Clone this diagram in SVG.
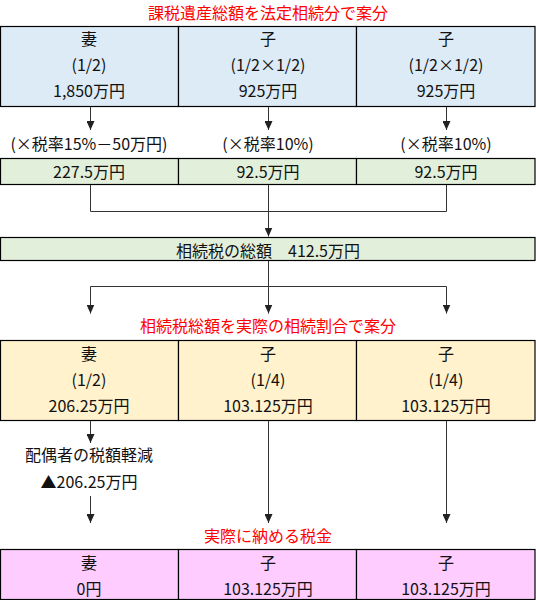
<svg xmlns="http://www.w3.org/2000/svg" width="536" height="600" viewBox="0 0 536 600">
<style>
text{font-family:"Meiryo","Noto Sans CJK JP","Noto Sans",sans-serif;font-size:16px;fill:#111;text-anchor:middle;dominant-baseline:central}
.red{fill:#ff0000}
.cell{stroke:#000;stroke-width:1.2}
.blue{fill:#ddebf7}
.green{fill:#e2efda}
.yellow{fill:#fff2cc}
.pink{fill:#ffccff}
.conn{stroke:#333;stroke-width:1;fill:none}
</style>
<defs>
<marker id="ah" markerWidth="9" markerHeight="8" refX="9" refY="4" orient="auto" markerUnits="userSpaceOnUse" viewBox="0 0 9 8">
<path d="M0,0 L9,4 L0,8 Z" fill="#222"/>
</marker>
</defs>
<text class="red" x="268" y="12">課税遺産総額を法定相続分で案分</text>
<g id="t1-wife"><rect class="cell blue" x="0.5" y="26.5" width="178" height="80"/><text x="89" y="38">妻</text><text x="89" y="64">(1/2)</text><text x="89" y="90">1,850万円</text></g>
<g id="t1-child1"><rect class="cell blue" x="178.5" y="26.5" width="178" height="80"/><text x="268" y="38">子</text><text x="268" y="64">(1/2×1/2)</text><text x="268" y="90">925万円</text></g>
<g id="t1-child2"><rect class="cell blue" x="356.5" y="26.5" width="178.5" height="80"/><text x="446" y="38">子</text><text x="446" y="64">(1/2×1/2)</text><text x="446" y="90">925万円</text></g>
<text x="89" y="143">(×税率15%－50万円)</text>
<text x="268" y="143">(×税率10%)</text>
<text x="446" y="143">(×税率10%)</text>
<g id="t2-wife"><rect class="cell green" x="0.5" y="158.5" width="178" height="26"/><text x="89" y="171">227.5万円</text></g>
<g id="t2-child1"><rect class="cell green" x="178.5" y="158.5" width="178" height="26"/><text x="268" y="171">92.5万円</text></g>
<g id="t2-child2"><rect class="cell green" x="356.5" y="158.5" width="178.5" height="26"/><text x="446" y="171">92.5万円</text></g>
<g id="total"><rect class="cell green" x="0.5" y="237.5" width="534.5" height="23"/><text x="268" y="249.5">相続税の総額　412.5万円</text></g>
<text class="red" x="268" y="325">相続税総額を実際の相続割合で案分</text>
<g id="t3-wife"><rect class="cell yellow" x="0.5" y="340.5" width="178" height="80"/><text x="89" y="353">妻</text><text x="89" y="379">(1/2)</text><text x="89" y="405">206.25万円</text></g>
<g id="t3-child1"><rect class="cell yellow" x="178.5" y="340.5" width="178" height="80"/><text x="268" y="353">子</text><text x="268" y="379">(1/4)</text><text x="268" y="405">103.125万円</text></g>
<g id="t3-child2"><rect class="cell yellow" x="356.5" y="340.5" width="178.5" height="80"/><text x="446" y="353">子</text><text x="446" y="379">(1/4)</text><text x="446" y="405">103.125万円</text></g>
<text x="89" y="454">配偶者の税額軽減</text>
<text x="89" y="481">▲206.25万円</text>
<text class="red" x="268" y="535">実際に納める税金</text>
<g id="t4-wife"><rect class="cell pink" x="0.5" y="549.5" width="178" height="50"/><text x="89" y="562">妻</text><text x="89" y="588">0円</text></g>
<g id="t4-child1"><rect class="cell pink" x="178.5" y="549.5" width="178" height="50"/><text x="268" y="562">子</text><text x="268" y="588">103.125万円</text></g>
<g id="t4-child2"><rect class="cell pink" x="356.5" y="549.5" width="178.5" height="50"/><text x="446" y="562">子</text><text x="446" y="588">103.125万円</text></g>
<g id="connectors">
<path class="conn" d="M90.5,107 V130" marker-end="url(#ah)"/>
<path class="conn" d="M268.5,107 V130" marker-end="url(#ah)"/>
<path class="conn" d="M446.5,107 V130" marker-end="url(#ah)"/>
<path class="conn" d="M90.5,185 V211.5 H446.5 V185"/>
<path class="conn" d="M268.5,185 V211.5"/>
<path class="conn" d="M268.5,211.5 V236.5" marker-end="url(#ah)"/>
<path class="conn" d="M268.5,261 V286.5 H90.5 V313.5" marker-end="url(#ah)"/>
<path class="conn" d="M268.5,286.5 H446.5 V313.5" marker-end="url(#ah)"/>
<path class="conn" d="M268.5,286.5 V313.5" marker-end="url(#ah)"/>
<path class="conn" d="M90.5,421 V443" marker-end="url(#ah)"/>
<path class="conn" d="M90.5,496 V523" marker-end="url(#ah)"/>
<path class="conn" d="M268.5,421 V523" marker-end="url(#ah)"/>
<path class="conn" d="M446.5,421 V523" marker-end="url(#ah)"/>
</g>
</svg>
